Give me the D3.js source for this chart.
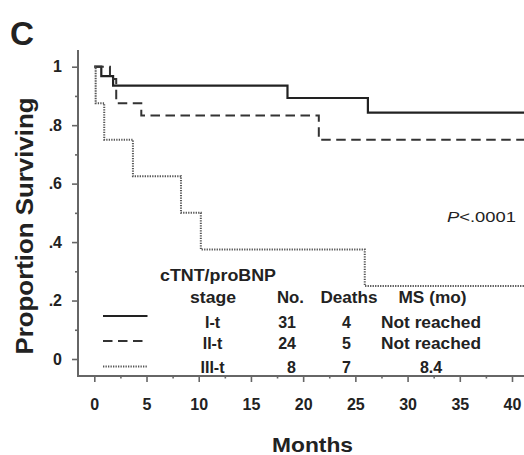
<!DOCTYPE html>
<html>
<head>
<meta charset="utf-8">
<script src="https://cdn.jsdelivr.net/npm/d3@7"></script>
<style>
  body { margin: 0; background: #fff; }
  text { font-family: "Liberation Sans", Arial, sans-serif; fill: #222; }
</style>
</head>
<body>
<div id="km-container"></div>
<script>
const width = 524, height = 455;

// axis ticks
const monthTicks = [0, 5, 10, 15, 20, 25, 30, 35, 40];
const monthMinorTicks = [2.5, 7.5, 12.5, 17.5, 22.5, 27.5, 32.5, 37.5];
const survivalTicks = [0, 0.2, 0.4, 0.6, 0.8, 1];
const survivalLabels = ["0", ".2", ".4", ".6", ".8", "1"];
const survivalMinorTicks = [0.1, 0.3, 0.5, 0.7, 0.9];

// Kaplan-Meier steps (months, proportion surviving)
const stageITimes = [0, 0.67, 1.8, 18.5, 26.2];
const stageISurv = [1, 0.968, 0.935, 0.893, 0.843];
const stageIITimes = [0, 1.5, 2.1, 4.5, 21.5];
const stageIISurv = [1, 0.958, 0.875, 0.833, 0.75];
const stageIIITimes = [0, 0.13, 0.95, 3.7, 8.3, 10.2, 25.9];
const stageIIISurv = [1, 0.875, 0.75, 0.625, 0.5, 0.375, 0.25];
const followUpEnd = 42;

// legend table
const stageNames = ["I-t", "II-t", "III-t"];
const stageCounts = [31, 24, 8];
const stageDeaths = [4, 5, 7];
const stageMedians = ["Not reached", "Not reached", "8.4"];

const x = d3.scaleLinear().domain([0, 40]).range([94.3, 512]);
const y = d3.scaleLinear().domain([0, 1]).range([359, 66.7]);

const svg = d3.select("#km-container").append("svg")
    .attr("width", width)
    .attr("height", height)
    .attr("viewBox", `0,0,${width},${height}`);

// text with a forced width, the scan is a bit stretched sideways
function label(px, py, str, size, opts = {}) {
    const t = svg.append("text")
        .attr("x", px)
        .attr("y", py)
        .attr("font-size", size)
        .attr("font-weight", opts.weight || "bold")
        .attr("text-anchor", opts.anchor || "start")
        .text(str);
    if (opts.len) t.attr("textLength", opts.len).attr("lengthAdjust", "spacingAndGlyphs");
    if (opts.transform) t.attr("transform", opts.transform);
    return t;
}

// axes
const xAxis = d3.axisBottom(x).tickValues(monthTicks).tickSize(6).tickPadding(17);
const xMinor = d3.axisBottom(x).tickValues(monthMinorTicks).tickSize(2.5).tickFormat("");
const yAxis = d3.axisLeft(y).tickValues(survivalTicks).tickSize(6).tickPadding(10)
    .tickFormat((d, i) => survivalLabels[i]);
const yMinor = d3.axisLeft(y).tickValues(survivalMinorTicks).tickSize(3).tickFormat("");

const axisY = 376, axisX = 78;
svg.append("g").attr("class", "axis").attr("transform", `translate(0,${axisY})`).call(xAxis);
svg.append("g").attr("class", "axis").attr("transform", `translate(0,${axisY})`).call(xMinor);
svg.append("g").attr("class", "axis").attr("transform", `translate(${axisX},0)`).call(yAxis);
svg.append("g").attr("class", "axis").attr("transform", `translate(${axisX},0)`).call(yMinor);

svg.selectAll(".axis > path").style("display", "none");
svg.selectAll(".axis line").attr("stroke", "#666").attr("stroke-width", 1.6);
svg.selectAll(".axis text")
    .attr("font-family", "Liberation Sans, Arial, sans-serif")
    .attr("font-size", 16)
    .attr("font-weight", "bold")
    .attr("fill", "#2a2a2a");

svg.append("line").attr("x1", axisX).attr("x2", axisX).attr("y1", 50).attr("y2", axisY + 1)
    .attr("stroke", "#666").attr("stroke-width", 2);
svg.append("line").attr("x1", axisX).attr("x2", width).attr("y1", axisY).attr("y2", axisY)
    .attr("stroke", "#666").attr("stroke-width", 2);

// survival curves
const line = d3.line()
    .x(d => x(d[0]))
    .y(d => y(d[1]))
    .curve(d3.curveStepAfter);

function steps(times, surv) {
    const pts = times.map((t, i) => [t, surv[i]]);
    pts.push([followUpEnd, surv[surv.length - 1]]);
    return pts;
}

const curveStyles = [
    {stroke: "#222", width: 2.2, dash: null},
    {stroke: "#333", width: 2, dash: "9.5,5.5"},
    {stroke: "#555", width: 2, dash: "1.3,1.2"}
];

const curves = [
    steps(stageITimes, stageISurv),
    steps(stageIITimes, stageIISurv),
    steps(stageIIITimes, stageIIISurv)
];

svg.selectAll("path.km")
    .data(curves)
    .enter().append("path")
    .attr("class", "km")
    .attr("d", line)
    .attr("fill", "none")
    .attr("stroke", (d, i) => curveStyles[i].stroke)
    .attr("stroke-width", (d, i) => curveStyles[i].width)
    .attr("stroke-dasharray", (d, i) => curveStyles[i].dash);

// legend
const rowLine = [316, 341, 366.5];
const rowText = [327.5, 349, 372.5];
stageNames.forEach((name, i) => {
    svg.append("line")
        .attr("x1", 103).attr("x2", 147.5)
        .attr("y1", rowLine[i]).attr("y2", rowLine[i])
        .attr("stroke", curveStyles[i].stroke)
        .attr("stroke-width", curveStyles[i].width)
        .attr("stroke-dasharray", curveStyles[i].dash);
    label(212.5, rowText[i], name, 16, {anchor: "middle"});
    label(296, rowText[i], stageCounts[i], 16, {anchor: "end"});
    label(346.5, rowText[i], stageDeaths[i], 16, {anchor: "middle"});
    label(431, rowText[i], stageMedians[i], 16, {anchor: "middle", len: stageMedians[i].length > 4 ? 100 : null});
});

label(160, 280.5, "cTNT/proBNP", 16, {len: 116});
label(190, 302.5, "stage", 16, {len: 46});
label(277, 302.5, "No.", 16, {len: 27});
label(320.5, 302.5, "Deaths", 16, {len: 57});
label(398.5, 302.5, "MS (mo)", 16, {len: 68});

// p value
const pText = label(447, 221.5, "", 15.5, {weight: "normal", len: 69});
pText.append("tspan").attr("font-style", "italic").text("P");
pText.append("tspan").text("<.0001");

// titles
label(10, 45, "C", 33, {len: 24});
label(312.5, 452, "Months", 20.5, {anchor: "middle", len: 81});
label(0, 0, "Proportion Surviving", 24, {
    anchor: "middle", len: 257, transform: "translate(33,226) rotate(-90)"
});
</script>
</body>
</html>
